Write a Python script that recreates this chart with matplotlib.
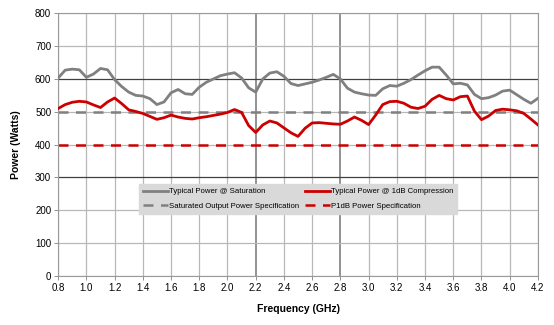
import matplotlib
matplotlib.use('Agg')
import matplotlib.pyplot as plt
import numpy as np

plt.rcParams['font.family'] = ['Liberation Sans', 'DejaVu Sans']

# frequency samples (GHz), every 0.05 GHz
freq = np.round(np.arange(0.80, 4.2001, 0.05), 2)

sat_power = [603, 627, 630, 628, 605, 615, 632, 628, 598, 577,
             560, 550, 548, 540, 522, 530, 558, 568, 555, 553,
             575, 590, 600, 610, 615, 619, 603, 573, 560, 600,
             618, 622, 608, 586, 580, 585, 590, 597, 605, 614,
             600, 572, 560, 555, 551, 550, 570, 580, 578, 587,
             598, 612, 625, 636, 636, 612, 585, 587, 582, 553,
             540, 543, 551, 563, 566, 552, 538, 526, 541]

p1db_power = [510, 522, 529, 532, 530, 521, 513, 530, 542, 525,
              506, 501, 495, 486, 477, 482, 490, 484, 480, 478,
              482, 485, 489, 493, 498, 507, 498, 458, 437, 460,
              472, 466, 451, 436, 425, 450, 466, 467, 465, 463,
              462, 472, 484, 474, 461, 490, 522, 531, 532, 526,
              514, 510, 517, 538, 550, 540, 536, 546, 548, 502,
              476, 487, 504, 508, 506, 503, 495, 478, 460]

spec_freq = [0.8, 4.2]
sat_spec = [500, 500]
p1db_spec = [400, 400]

xticks = np.round(np.arange(0.8, 4.2001, 0.2), 1)
yticks = list(range(0, 801, 100))

fig = plt.figure(figsize=(5.54, 3.25), dpi=100)
ax = fig.add_axes([0.105, 0.151, 0.866, 0.808])

ax.set_xlim(0.8, 4.2)
ax.set_ylim(0, 800)
ax.set_xticks(xticks)
ax.set_xticklabels(['%.1f' % v for v in xticks], fontsize=7)
ax.set_yticks(yticks)
ax.set_yticklabels([str(v) for v in yticks], fontsize=7)

# grid: light lines, a few heavier ones like the original
for v in xticks:
    c = '#7f7f7f' if v in (2.2, 2.8) else '#b8b8b8'
    lw = 1.2 if v in (2.2, 2.8) else 0.9
    ax.axvline(v, color=c, lw=lw, zorder=1)
for v in yticks:
    c = '#404040' if v in (300, 600) else '#b8b8b8'
    ax.axhline(v, color=c, lw=0.9, zorder=1)

for s in ax.spines.values():
    s.set_color('#9a9a9a')
    s.set_linewidth(0.8)
ax.tick_params(axis='both', length=3, width=0.6, color='#808080', pad=2)

ax.plot(freq, sat_power, color='#808080', lw=2.0, zorder=3,
        solid_joinstyle='round', label='Typical Power @ Saturation')
ax.plot(spec_freq, sat_spec, color='#808080', lw=1.8, dashes=(4, 3), zorder=2,
        label='Saturated Output Power Specification')
ax.plot(freq, p1db_power, color='#cc0000', lw=2.0, zorder=3,
        solid_joinstyle='round', label='Typical Power @ 1dB Compression')
ax.plot(spec_freq, p1db_spec, color='#cc0000', lw=1.8, dashes=(4, 3), zorder=2,
        label='P1dB Power Specification')

leg = ax.legend(loc='upper left', bbox_to_anchor=(0.16, 0.365), ncol=2,
                fontsize=5.6, frameon=True, fancybox=False, borderpad=0.5,
                handlelength=3.2, handletextpad=0.15, columnspacing=0.8,
                labelspacing=0.9)
leg.get_frame().set_facecolor('#d9d9d9')
leg.get_frame().set_edgecolor('#d9d9d9')
leg.get_frame().set_alpha(1)

ax.set_xlabel('Frequency (GHz)', fontsize=7.5, fontweight='bold', labelpad=8)
ax.set_ylabel('Power (Watts)', fontsize=7.5, fontweight='bold', labelpad=10)

fig.savefig('out.png', dpi=100)
